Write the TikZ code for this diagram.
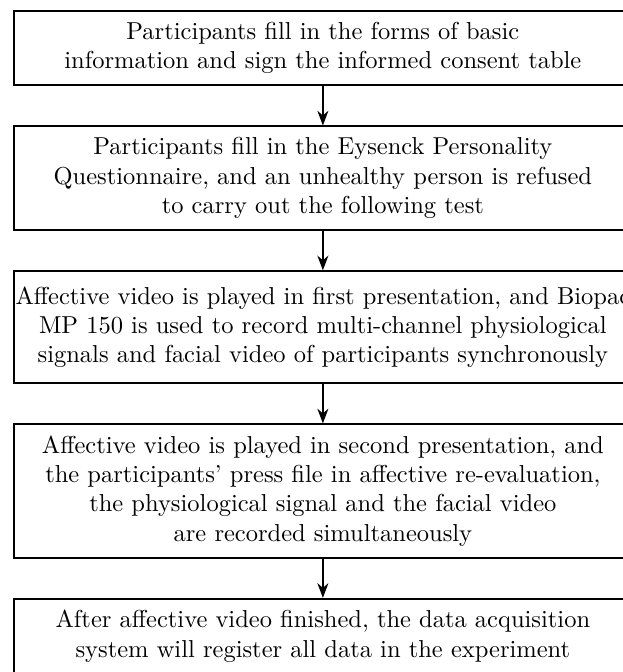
\documentclass[tikz,border=0pt]{standalone}
\usepackage{xcolor}
\usepackage{tikz}
\usetikzlibrary{positioning, arrows.meta}

\begin{document}
\begin{tikzpicture}[
    stage/.style={draw, line width=0.8pt, minimum width=252pt, inner xsep=0pt,
      inner ysep=4.6pt, align=center, font=\normalsize},
    flow/.style={-{Stealth[length=6pt, width=4.5pt]}, line width=0.5pt},
    node distance=16pt
  ]
    % Page frame
    \useasboundingbox (0,0) rectangle (253.9pt,-274.3pt);

    % Procedure steps, top to bottom
    \node[stage, anchor=north] (consent) at (131.8pt,-4.1pt)
      {Participants fill in the forms of basic\\
       information and sign the informed consent table};
    \node[stage, below=of consent] (epq)
      {Participants fill in the Eysenck Personality\\
       Questionnaire, and an unhealthy person is refused\\
       to carry out the following test};
    \node[stage, below=of epq, minimum height=45.7pt] (first)
      {Affective video is played in first presentation, and Biopac\\
       MP 150 is used to record multi-channel physiological\\
       signals and facial video of participants synchronously};
    \node[stage, below=of first] (second)
      {Affective video is played in second presentation, and\\
       the participants' press file in affective re-evaluation,\\
       the physiological signal and the facial video\\
       are recorded simultaneously};
    \node[stage, below=of second] (register)
      {After affective video finished, the data acquisition\\
       system will register all data in the experiment};

    % Arrows between the steps
    \draw[flow] (consent) -- (epq);
    \draw[flow] (epq) -- (first);
    \draw[flow] (first) -- (second);
    \draw[flow] (second) -- (register);
\end{tikzpicture}
\end{document}
